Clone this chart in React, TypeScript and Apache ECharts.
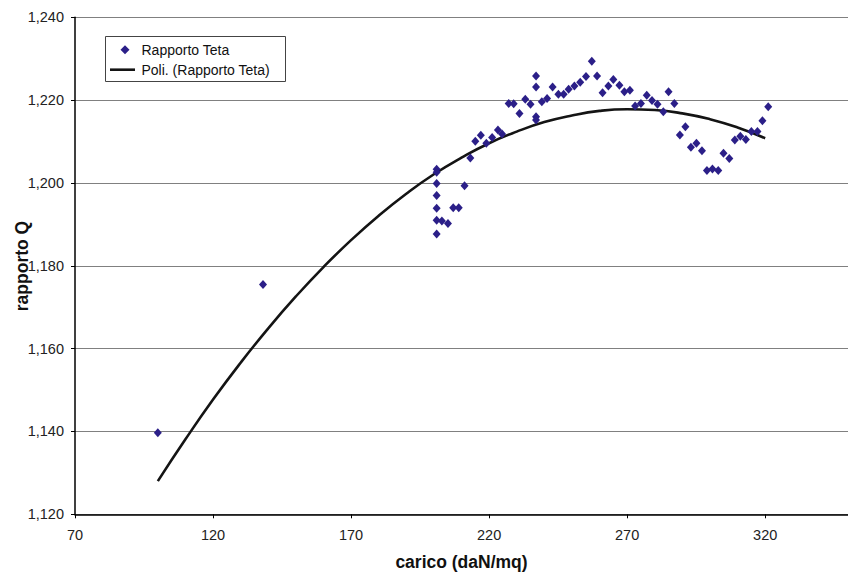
import React, { useEffect, useRef } from "react";
import * as echarts from "echarts";

const FONT = "'Liberation Sans', Arial, Helvetica, sans-serif";

// Measured points: carico (daN/mq) vs rapporto Q
const caricoValues = [
  100.0, 138.1,
  201.0, 201.0, 201.0, 201.0, 201.0, 201.0, 201.0,
  202.9, 205.1, 207.0, 209.0, 211.1, 213.2, 215.0, 217.0,
  219.0, 221.1, 223.2, 224.7, 227.1, 228.9, 231.0, 233.1, 235.0,
  237.0, 237.0, 237.0, 237.0, 239.1, 241.0, 243.0, 245.1, 247.0,
  248.8, 250.9, 253.0, 255.1, 257.2, 259.1, 261.1, 263.2, 265.0,
  267.2, 269.0, 271.0, 272.9, 275.0, 277.1, 279.0, 281.0, 283.1,
  285.0, 287.1, 289.1, 291.1, 293.1, 295.1, 297.1, 298.9, 300.9,
  303.0, 304.9, 307.0, 309.0, 311.0, 313.0, 315.0, 317.2, 319.0, 321.1,
];
const rapportoValues = [
  1.1397, 1.1755,
  1.2033, 1.2026, 1.1999, 1.1970, 1.1939, 1.1910, 1.1877,
  1.1908, 1.1902, 1.1940, 1.1940, 1.1993, 1.2060, 1.2101, 1.2115,
  1.2096, 1.2110, 1.2128, 1.2118, 1.2192, 1.2191, 1.2168, 1.2202, 1.2190,
  1.2258, 1.2232, 1.2160, 1.2152, 1.2196, 1.2204, 1.2232, 1.2214, 1.2214,
  1.2226, 1.2234, 1.2243, 1.2257, 1.2294, 1.2258, 1.2218, 1.2234, 1.2250,
  1.2236, 1.2220, 1.2224, 1.2186, 1.2192, 1.2212, 1.2199, 1.2190, 1.2172,
  1.2220, 1.2192, 1.2116, 1.2136, 1.2086, 1.2096, 1.2078, 1.2030, 1.2034,
  1.2030, 1.2072, 1.2059, 1.2104, 1.2113, 1.2105, 1.2124, 1.2124, 1.2150, 1.2184,
];

// Polynomial trendline
const trendX = [
  100, 110, 120, 130, 140, 150, 160, 170, 180, 190, 200, 210,
  220, 230, 240, 250, 260, 270, 280, 290, 300, 310, 320,
];
const trendY = [
  1.1280, 1.1381, 1.1477, 1.1566, 1.1649, 1.1726, 1.1797, 1.1862,
  1.1921, 1.1974, 1.2021, 1.2061, 1.2096, 1.2124, 1.2147, 1.2163,
  1.2174, 1.2178, 1.2176, 1.2168, 1.2154, 1.2134, 1.2108,
];

const xTickValues = [70, 120, 170, 220, 270, 320];

const seriesName = "Rapporto Teta";
const trendName = "Poli. (Rapporto Teta)";
const xTitle = "carico (daN/mq)";
const yTitle = "rapporto Q";

const MARKER = "#2B1F88";
const TREND = "#141414";

export default function App() {
  const ref = useRef<HTMLDivElement>(null);

  useEffect(() => {
    if (!ref.current) return;
    const chart = echarts.init(ref.current, undefined, { renderer: "svg" });

    const scatterData = caricoValues.map((x, i) => [x, rapportoValues[i]]);
    const trendData = trendX.map((x, i) => [x, trendY[i]]);

    const legendTextStyle = {
      fontSize: 14,
      fontFamily: FONT,
      fill: "#111111",
      align: "left",
      verticalAlign: "middle",
    };

    chart.setOption({
      animation: false,
      backgroundColor: "#ffffff",
      textStyle: { fontFamily: FONT },
      grid: { left: 75, right: 0, top: 17.3, bottom: 59.7, containLabel: false },
      xAxis: {
        type: "value",
        min: 70,
        max: 350,
        splitLine: { show: false },
        axisLine: { show: true, onZero: false, lineStyle: { color: "#000000", width: 1.5 } },
        axisTick: {
          show: true,
          length: 4,
          customValues: xTickValues,
          lineStyle: { color: "#000000", width: 1 },
        },
        axisLabel: {
          customValues: xTickValues,
          fontSize: 14.5,
          fontFamily: FONT,
          color: "#222222",
          margin: 13,
        },
      },
      yAxis: {
        type: "value",
        min: 1.12,
        max: 1.24,
        interval: 0.02,
        axisLine: { show: true, onZero: false, lineStyle: { color: "#000000", width: 1.5 } },
        axisTick: { show: true, length: 4, lineStyle: { color: "#000000", width: 1 } },
        splitLine: { show: true, lineStyle: { color: "#808080", width: 1 } },
        axisLabel: {
          fontSize: 14.5,
          fontFamily: FONT,
          color: "#222222",
          margin: 11,
          formatter: (v: number) => v.toFixed(3).replace(".", ","),
        },
      },
      graphic: [
        {
          type: "text",
          x: 22,
          y: 266,
          rotation: Math.PI / 2,
          style: {
            text: yTitle,
            fontSize: 17.5,
            fontWeight: "bold",
            fontFamily: FONT,
            fill: "#111111",
            align: "center",
            verticalAlign: "middle",
          },
        },
        {
          type: "text",
          x: 461.5,
          y: 562,
          style: {
            text: xTitle,
            fontSize: 17.5,
            fontWeight: "bold",
            fontFamily: FONT,
            fill: "#111111",
            align: "center",
            verticalAlign: "middle",
          },
        },
        {
          type: "group",
          z: 100,
          children: [
            {
              type: "rect",
              shape: { x: 105.5, y: 36.5, width: 180, height: 45 },
              style: { fill: "#ffffff", stroke: "#444444", lineWidth: 1 },
            },
            {
              type: "polygon",
              shape: {
                points: [
                  [125, 45.2],
                  [129.5, 49.7],
                  [125, 54.2],
                  [120.5, 49.7],
                ],
              },
              style: { fill: MARKER },
            },
            {
              type: "text",
              x: 141.5,
              y: 49.7,
              style: { text: seriesName, ...legendTextStyle },
            },
            {
              type: "line",
              shape: { x1: 110, y1: 69.7, x2: 135, y2: 69.7 },
              style: { stroke: TREND, lineWidth: 2.6 },
            },
            {
              type: "text",
              x: 141.5,
              y: 69.7,
              style: { text: trendName, ...legendTextStyle },
            },
          ],
        },
      ],
      series: [
        {
          name: trendName,
          type: "line",
          data: trendData,
          smooth: true,
          symbol: "none",
          showSymbol: false,
          lineStyle: { color: TREND, width: 2.6 },
          itemStyle: { color: TREND },
          z: 3,
        },
        {
          name: seriesName,
          type: "scatter",
          data: scatterData,
          symbol: "diamond",
          symbolSize: [8, 9],
          itemStyle: { color: MARKER, opacity: 1 },
          z: 4,
        },
      ],
    });

    return () => chart.dispose();
  }, []);

  return (
    <div
      ref={ref}
      style={{ position: "fixed", left: 0, top: 0, width: 848, height: 574, background: "#fff" }}
    />
  );
}
